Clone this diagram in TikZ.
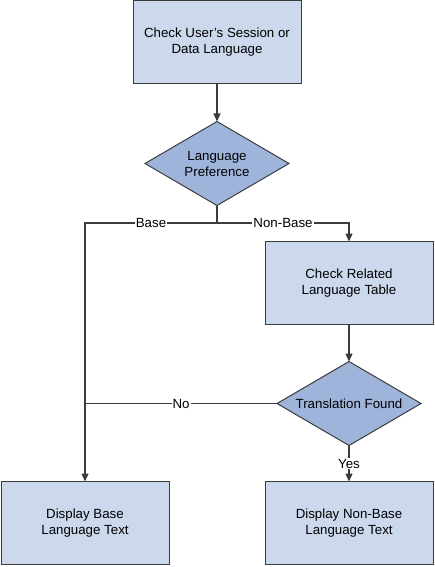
\documentclass[tikz,border=0pt]{standalone}
\usepackage{fontspec}
\setmainfont{Liberation Sans}
\usepackage{xcolor}
\usetikzlibrary{arrows.meta,shapes.geometric,positioning}

\definecolor{boxfill}{RGB}{204,217,236}
\definecolor{dmdfill}{RGB}{159,180,219}
\definecolor{edgegray}{RGB}{60,60,60}

\begin{document}
\begin{tikzpicture}[node distance=36pt, line width=1.2pt]
    \tikzstyle{every node}=[font=\fontsize{13.3}{16}\selectfont]
    \tikzstyle{process}=[rectangle, draw=edgegray, fill=boxfill, line width=1pt,
        minimum width=168pt, minimum height=83pt, align=center, outer sep=0pt]
    \tikzstyle{decision}=[diamond, draw=edgegray, fill=dmdfill, line width=1pt,
        aspect=1.73, minimum width=144pt, minimum height=84pt, inner sep=0pt,
        align=center, outer sep=0pt]
    \tikzstyle{flow}=[draw=edgegray, -{Triangle[width=7pt,length=8pt]}]
    \tikzstyle{lbl}=[fill=white, inner sep=1pt, anchor=center]

    \useasboundingbox (0,0) rectangle (435pt,-567pt);

    \node[process] (chk) at (217pt,-42pt) {Check User's Session or\\Data Language};
    \node[decision] (pref) [below=38pt of chk] {Language\\Preference};
    \node[process] (rel) at (349pt,-283pt) {Check Related\\Language Table};
    \node[decision] (found) [below=37pt of rel] {Translation Found};
    \node[process] (nonbase) [below=36pt of found] {Display Non-Base\\Language Text};
    \node[process] (base) [left=96pt of nonbase] {Display Base\\Language Text};

    \coordinate (fork) at (217pt,-223pt);

    \path[flow] (chk) -- (pref);
    \draw[draw=edgegray] (pref.south) -- (fork);
    \path[flow] (fork) -| node[lbl, pos=0.25] {Base} (base.north);
    \path[flow] (fork) -| node[lbl, pos=0.25] {Non-Base} (rel.north);
    \path[flow] (rel) -- (found);
    \draw[draw=edgegray] (found.west) -- node[lbl, midway] {No} (found.west -| base.north);
    \path[flow] (found) -- node[lbl, midway] {Yes} (nonbase);

\end{tikzpicture}
\end{document}
